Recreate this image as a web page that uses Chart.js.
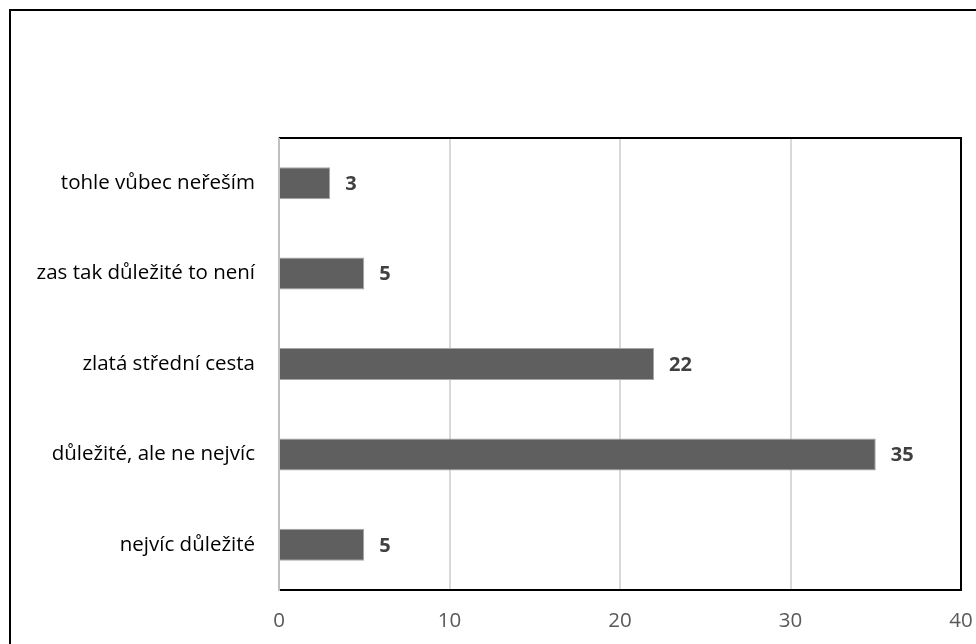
<!DOCTYPE html>
<html>
<head>
<meta charset="utf-8">
<script src="https://cdn.jsdelivr.net/npm/chart.js@4.4.1/dist/chart.umd.min.js"></script>
<style>
  html, body { margin: 0; padding: 0; background: #ffffff; }
  #wrap { width: 976px; height: 644px; position: relative; }
</style>
</head>
<body>
<div id="wrap"><canvas id="c" width="976" height="644"></canvas></div>
<script>
const categories = ["tohle vůbec neřeším", "zas tak důležité to není", "zlatá střední cesta", "důležité, ale ne nejvíc", "nejvíc důležité"];
const values = [3, 5, 22, 35, 5];
const xTicks = [0, 10, 20, 30, 40];

const FONT = "'Open Sans', 'Noto Sans', sans-serif";

const frame = {
  id: 'frame',
  beforeDraw(chart) {
    const c = chart.ctx;
    c.save();
    c.fillStyle = '#ffffff';
    c.fillRect(0, 0, chart.width, chart.height);
    c.strokeStyle = '#000000';
    c.lineWidth = 2;
    c.strokeRect(10, 10, chart.width + 20, chart.height + 20);
    c.restore();
  },
  afterDraw(chart) {
    const a = chart.chartArea, c = chart.ctx;
    c.save();
    c.strokeStyle = '#000000';
    c.lineWidth = 2;
    c.beginPath();
    c.moveTo(a.left, a.top); c.lineTo(a.right, a.top); c.lineTo(a.right, a.bottom);
    c.stroke();
    c.strokeStyle = '#bfbfbf';
    c.beginPath();
    c.moveTo(a.left, a.top); c.lineTo(a.left, a.bottom);
    c.stroke();
    const meta = chart.getDatasetMeta(0);
    c.fillStyle = '#404040';
    c.font = "bold 20px " + FONT;
    c.textAlign = 'left';
    c.textBaseline = 'middle';
    meta.data.forEach((bar, i) => {
      c.fillText(String(values[i]), bar.x + 15, bar.y + 1);
    });
    c.restore();
  }
};

new Chart(document.getElementById('c'), {
  type: 'bar',
  data: {
    labels: categories,
    datasets: [{
      data: values,
      backgroundColor: '#5f5f5f',
      borderColor: '#a6a6a6',
      borderWidth: 1,
      categoryPercentage: 1,
      barPercentage: 0.354
    }]
  },
  options: {
    indexAxis: 'y',
    responsive: false,
    animation: false,
    devicePixelRatio: 1,
    layout: { padding: { left: 0, top: 138, right: 15, bottom: 0 } },
    plugins: { legend: { display: false }, tooltip: { enabled: false } },
    scales: {
      x: {
        min: 0, max: 40,
        afterBuildTicks(s) { s.ticks = xTicks.map(v => ({ value: v })); },
        afterFit(s) { s.height = 54; s.paddingLeft = 0; s.paddingRight = 0; },
        grid: { color: (ctx) => (ctx.tick && (ctx.tick.value === 0 || ctx.tick.value === 40)) ? 'rgba(0,0,0,0)' : '#d9d9d9', lineWidth: 2, drawTicks: false },
        border: { color: '#000000', width: 2 },
        ticks: { color: '#595959', font: { family: FONT, size: 20.5 }, padding: 19, maxRotation: 0 }
      },
      y: {
        afterFit(s) { s.width = 279; s.paddingTop = 0; s.paddingBottom = 0; },
        grid: { display: false, drawTicks: false },
        border: { color: '#bfbfbf', width: 2 },
        ticks: { color: '#000000', font: { family: FONT, size: 20.5 }, padding: 24 }
      }
    }
  },
  plugins: [frame]
});
</script>
</body>
</html>
